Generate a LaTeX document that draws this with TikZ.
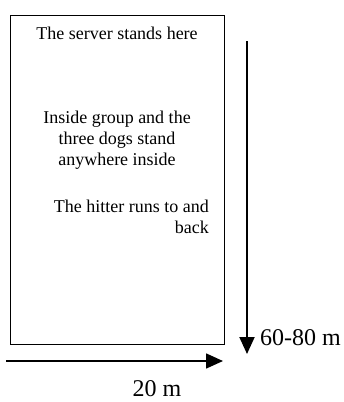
\documentclass[tikz,border=0pt]{standalone}
\usepackage{fontspec}
\setmainfont{Liberation Serif}
\usetikzlibrary{arrows.meta}
\begin{document}
\begin{tikzpicture}[x=1pt,y=-1pt,
  txt/.style={inner sep=0pt, font=\fontsize{18}{21}\selectfont},
  dimlabel/.style={inner sep=0pt, font=\fontsize{24}{28}\selectfont},
  arr/.style={line width=2pt, -{Triangle[length=17pt,width=15pt]}}]
\useasboundingbox (0,0) rectangle (344,402);
\node[draw, line width=1pt, minimum width=214pt, minimum height=329pt, inner sep=0pt, anchor=north west] (field) at (10,15) {};
\node[txt, anchor=base] (server) at (117,39) {The server stands here};
\node[txt, anchor=base, align=center] (inside) at (117,165) {Inside group and the\\three dogs stand\\anywhere inside};
\node[txt, anchor=base east, align=right] (hitter) at (209,233) {The hitter runs to and\\back};
\coordinate (vtop) at (247,41);
\coordinate (vbot) at (247,354);
\draw[arr] (vtop) -- (vbot);
\node[dimlabel, anchor=base west] (vlabel) at (260,345) {60-80 m};
\coordinate (hleft) at (6,361);
\coordinate (hright) at (223,361);
\draw[arr, line width=1.6pt] (hleft) -- (hright);
\node[dimlabel, anchor=base] (hlabel) at (157,396) {20 m};
\end{tikzpicture}
\end{document}
